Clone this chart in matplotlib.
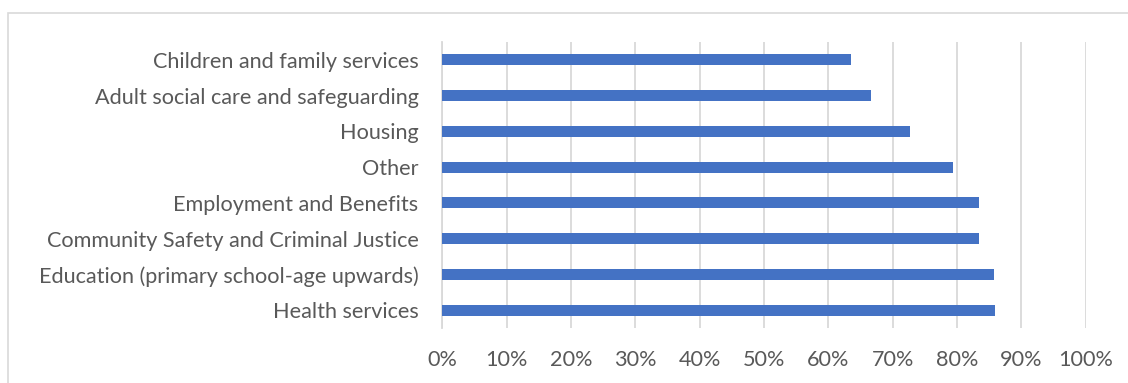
import matplotlib
matplotlib.use("Agg")
import matplotlib.pyplot as plt
from matplotlib.patches import Rectangle
from matplotlib.ticker import FuncFormatter

categories = [
    "Children and family services",
    "Adult social care and safeguarding",
    "Housing",
    "Other",
    "Employment and Benefits",
    "Community Safety and Criminal Justice",
    "Education (primary school-age upwards)",
    "Health services",
]
values = [0.636, 0.667, 0.727, 0.794, 0.834, 0.834, 0.857, 0.859]
xticks = [i / 10 for i in range(11)]

W, H = 1128, 383
fig = plt.figure(figsize=(W / 100, H / 100), dpi=100)
fig.patch.set_facecolor("white")

# outer chart border
fig.patches.append(Rectangle((8 / W, -0.1), 1.2, 1 - 13 / H + 0.1,
                             transform=fig.transFigure, fill=False,
                             edgecolor="#D9D9D9", linewidth=1.2))

ax = fig.add_axes([442.2 / W, 55 / H, 643.5 / W, 286 / H])
n = len(categories)
ypos = list(range(n))
ax.barh(ypos, values, height=0.31, color="#4472C4", zorder=3)
ax.set_ylim(n - 0.5, -0.5)
ax.set_xlim(0, 1)
ax.set_yticks(ypos)
ax.set_yticklabels(categories)
ax.set_xticks(xticks)
ax.xaxis.set_major_formatter(FuncFormatter(lambda v, p: f"{v*100:.0f}%"))
ax.grid(axis="x", color="#D9D9D9", linewidth=1.3, zorder=0)
ax.set_axisbelow(True)
for s in ["top", "right", "bottom"]:
    ax.spines[s].set_visible(False)
ax.spines["left"].set_color("#D9D9D9")
ax.spines["left"].set_linewidth(1.3)
ax.tick_params(axis="both", length=0, labelsize=15.6, labelcolor="#595959")
ax.tick_params(axis="y", pad=17)
ax.tick_params(axis="x", pad=16)
for lab in ax.get_xticklabels() + ax.get_yticklabels():
    lab.set_family(["Lato", "DejaVu Sans"])

fig.savefig("out.png", dpi=100, facecolor="white")
